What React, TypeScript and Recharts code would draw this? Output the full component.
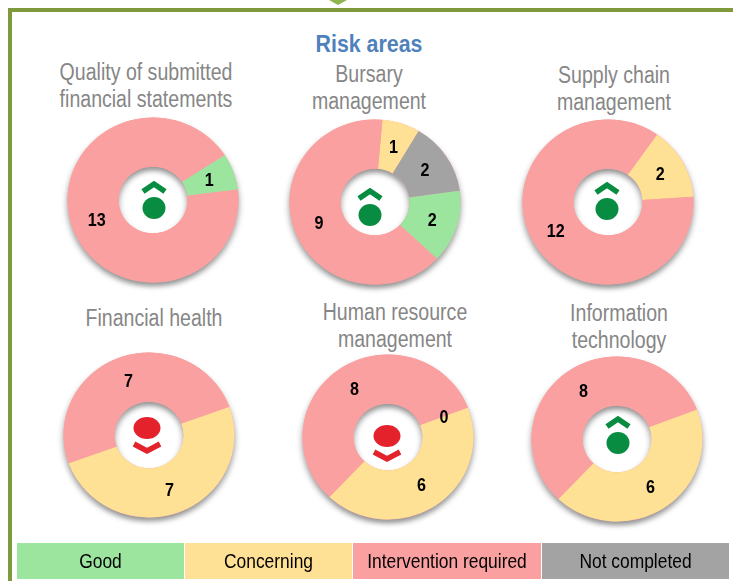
import React from 'react';
import { PieChart, Pie, Cell } from 'recharts';

const GOOD = '#9be59f';
const CONCERNING = '#ffe195';
const INTERVENTION = '#fba0a0';
const NOT_COMPLETED = '#a3a3a3';

const statementValues = [1, 13];
const statementColors = [GOOD, INTERVENTION];
const bursaryValues = [1, 2, 2, 9];
const bursaryColors = [CONCERNING, NOT_COMPLETED, GOOD, INTERVENTION];
const supplyValues = [2, 12];
const supplyColors = [CONCERNING, INTERVENTION];
const healthValues = [7, 7];
const healthColors = [CONCERNING, INTERVENTION];
const humanValues = [0, 6, 8];
const humanColors = [GOOD, CONCERNING, INTERVENTION];
const itValues = [6, 8];
const itColors = [CONCERNING, INTERVENTION];

const legendLabels = ['Good', 'Concerning', 'Intervention required', 'Not completed'];
const legendColors = [GOOD, CONCERNING, INTERVENTION, NOT_COMPLETED];
const legendEdges = [17, 185, 353, 542, 730];

const FONT = '"Liberation Sans", Arial, sans-serif';

const renderLabel = (p: any) => {
  const r = (p.innerRadius + p.outerRadius) / 2;
  const a = (p.midAngle * Math.PI) / 180;
  const x = p.cx + r * Math.cos(a);
  const y = p.cy - r * Math.sin(a);
  return (
    <text
      transform={`translate(${x} ${y}) scale(0.85 1)`}
      textAnchor="middle"
      dominantBaseline="central"
      fill="#000"
      fontFamily={FONT}
      fontWeight="bold"
      fontSize={19}
    >
      {p.value}
    </text>
  );
};

function Donut({ values, colors, x, y, start }: { values: number[]; colors: string[]; x: number; y: number; start: number }) {
  const data = values.map((value) => ({ value }));
  const startAngle = 90 - start;
  return (
    // the original donuts are slightly squashed
    <div style={{ position: 'absolute', left: x - 110, top: y - 110, transform: 'scale(1, 0.965)' }}>
      <PieChart width={220} height={220} margin={{ top: 0, right: 0, bottom: 0, left: 0 }}>
        {/* backing ring only carries the shadow so labels stay crisp */}
        <Pie
          data={[{ value: 1 }]}
          dataKey="value"
          cx="50%"
          cy="50%"
          innerRadius={34.5}
          outerRadius={85.5}
          startAngle={90}
          endAngle={-270}
          stroke="none"
          isAnimationActive={false}
        >
          <Cell fill={INTERVENTION} style={{ filter: 'drop-shadow(0px 4px 3px rgba(0,0,0,0.42))' }} />
        </Pie>
        <Pie
          data={data}
          dataKey="value"
          cx="50%"
          cy="50%"
          innerRadius={34.5}
          outerRadius={85.5}
          startAngle={startAngle}
          endAngle={startAngle - 360}
          stroke="none"
          label={renderLabel}
          labelLine={false}
          isAnimationActive={false}
        >
          {data.map((_, i) => (
            <Cell key={i} fill={colors[i]} />
          ))}
        </Pie>
      </PieChart>
    </div>
  );
}

function Marker({ x, y, up }: { x: number; y: number; up: boolean }) {
  // x, y = centre of the dot
  const color = up ? '#078c41' : '#e4222b';
  const chevron = up
    ? `M${x - 11} ${y - 16.5} L${x} ${y - 24} L${x + 11} ${y - 16.5}`
    : `M${x - 13} ${y + 16} L${x} ${y + 23} L${x + 13} ${y + 16}`;
  return (
    <svg width={733} height={581} style={{ position: 'absolute', left: 0, top: 0, pointerEvents: 'none' }}>
      <ellipse cx={x} cy={y} rx={up ? 11.5 : 13.5} ry={11} fill={color} />
      <path d={chevron} fill="none" stroke={color} strokeWidth={5.5} />
    </svg>
  );
}

function Title({ lines, x, y, color = '#868686', size = 23, bold = false, squeeze = 0.85 }: { lines: string[]; x: number; y: number; color?: string; size?: number; bold?: boolean; squeeze?: number }) {
  return (
    <div
      style={{
        position: 'absolute',
        left: x,
        top: y,
        transform: `translate(-50%, -50%) scaleX(${squeeze})`,
        textAlign: 'center',
        whiteSpace: 'nowrap',
        color,
        fontFamily: FONT,
        fontSize: size,
        fontWeight: bold ? 'bold' : 'normal',
        lineHeight: '27px',
      }}
    >
      {lines.map((l) => (
        <div key={l}>{l}</div>
      ))}
    </div>
  );
}

export default function App() {
  return (
    <div style={{ position: 'absolute', left: 0, top: 0, width: 733, height: 581, overflow: 'hidden', background: '#fff' }}>
      {/* frame */}
      <div style={{ position: 'absolute', left: 8, top: 8, width: 725, height: 4, background: '#7f9a3c' }} />
      <div style={{ position: 'absolute', left: 8, top: 8, width: 4, height: 573, background: '#7f9a3c' }} />
      <svg width={733} height={10} style={{ position: 'absolute', left: 0, top: 0 }}>
        <path d="M329 0 L347 0 L338 5 Z" fill="#8fb550" />
      </svg>

      <Title lines={['Risk areas']} x={369} y={43} color="#4f81bd" size={24} bold squeeze={0.89} />
      <Title lines={['Quality of submitted', 'financial statements']} x={146} y={86} />
      <Title lines={['Bursary', 'management']} x={369} y={88} />
      <Title lines={['Supply chain', 'management']} x={614} y={89} />
      <Title lines={['Financial health']} x={154} y={318} />
      <Title lines={['Human resource', 'management']} x={395} y={326} />
      <Title lines={['Information', 'technology']} x={619} y={327} />

      <Donut values={statementValues} colors={statementColors} x={153} y={199.5} start={57} />
      <Donut values={bursaryValues} colors={bursaryColors} x={374.5} y={201.5} start={5} />
      <Donut values={supplyValues} colors={supplyColors} x={608} y={201.5} start={35} />
      <Donut values={healthValues} colors={healthColors} x={148.5} y={435} start={70} />
      <Donut values={humanValues} colors={humanColors} x={388} y={437} start={69} />
      <Donut values={itValues} colors={itColors} x={617} y={439} start={69} />

      <Marker x={154} y={208} up />
      <Marker x={370} y={215} up />
      <Marker x={607} y={209} up />
      <Marker x={147} y={428} up={false} />
      <Marker x={387} y={436} up={false} />
      <Marker x={618} y={443} up />

      {legendLabels.map((label, i) => (
        <div
          key={label}
          style={{
            position: 'absolute',
            left: legendEdges[i],
            top: 543,
            width: legendEdges[i + 1] - legendEdges[i] - 1,
            height: 36,
            background: legendColors[i],
          }}
        >
          <div
            style={{
              lineHeight: '36px',
              textAlign: 'center',
              color: '#000',
              fontFamily: FONT,
              fontSize: 20,
              whiteSpace: 'nowrap',
              transform: 'scaleX(0.87)',
            }}
          >
            {label}
          </div>
        </div>
      ))}
    </div>
  );
}
